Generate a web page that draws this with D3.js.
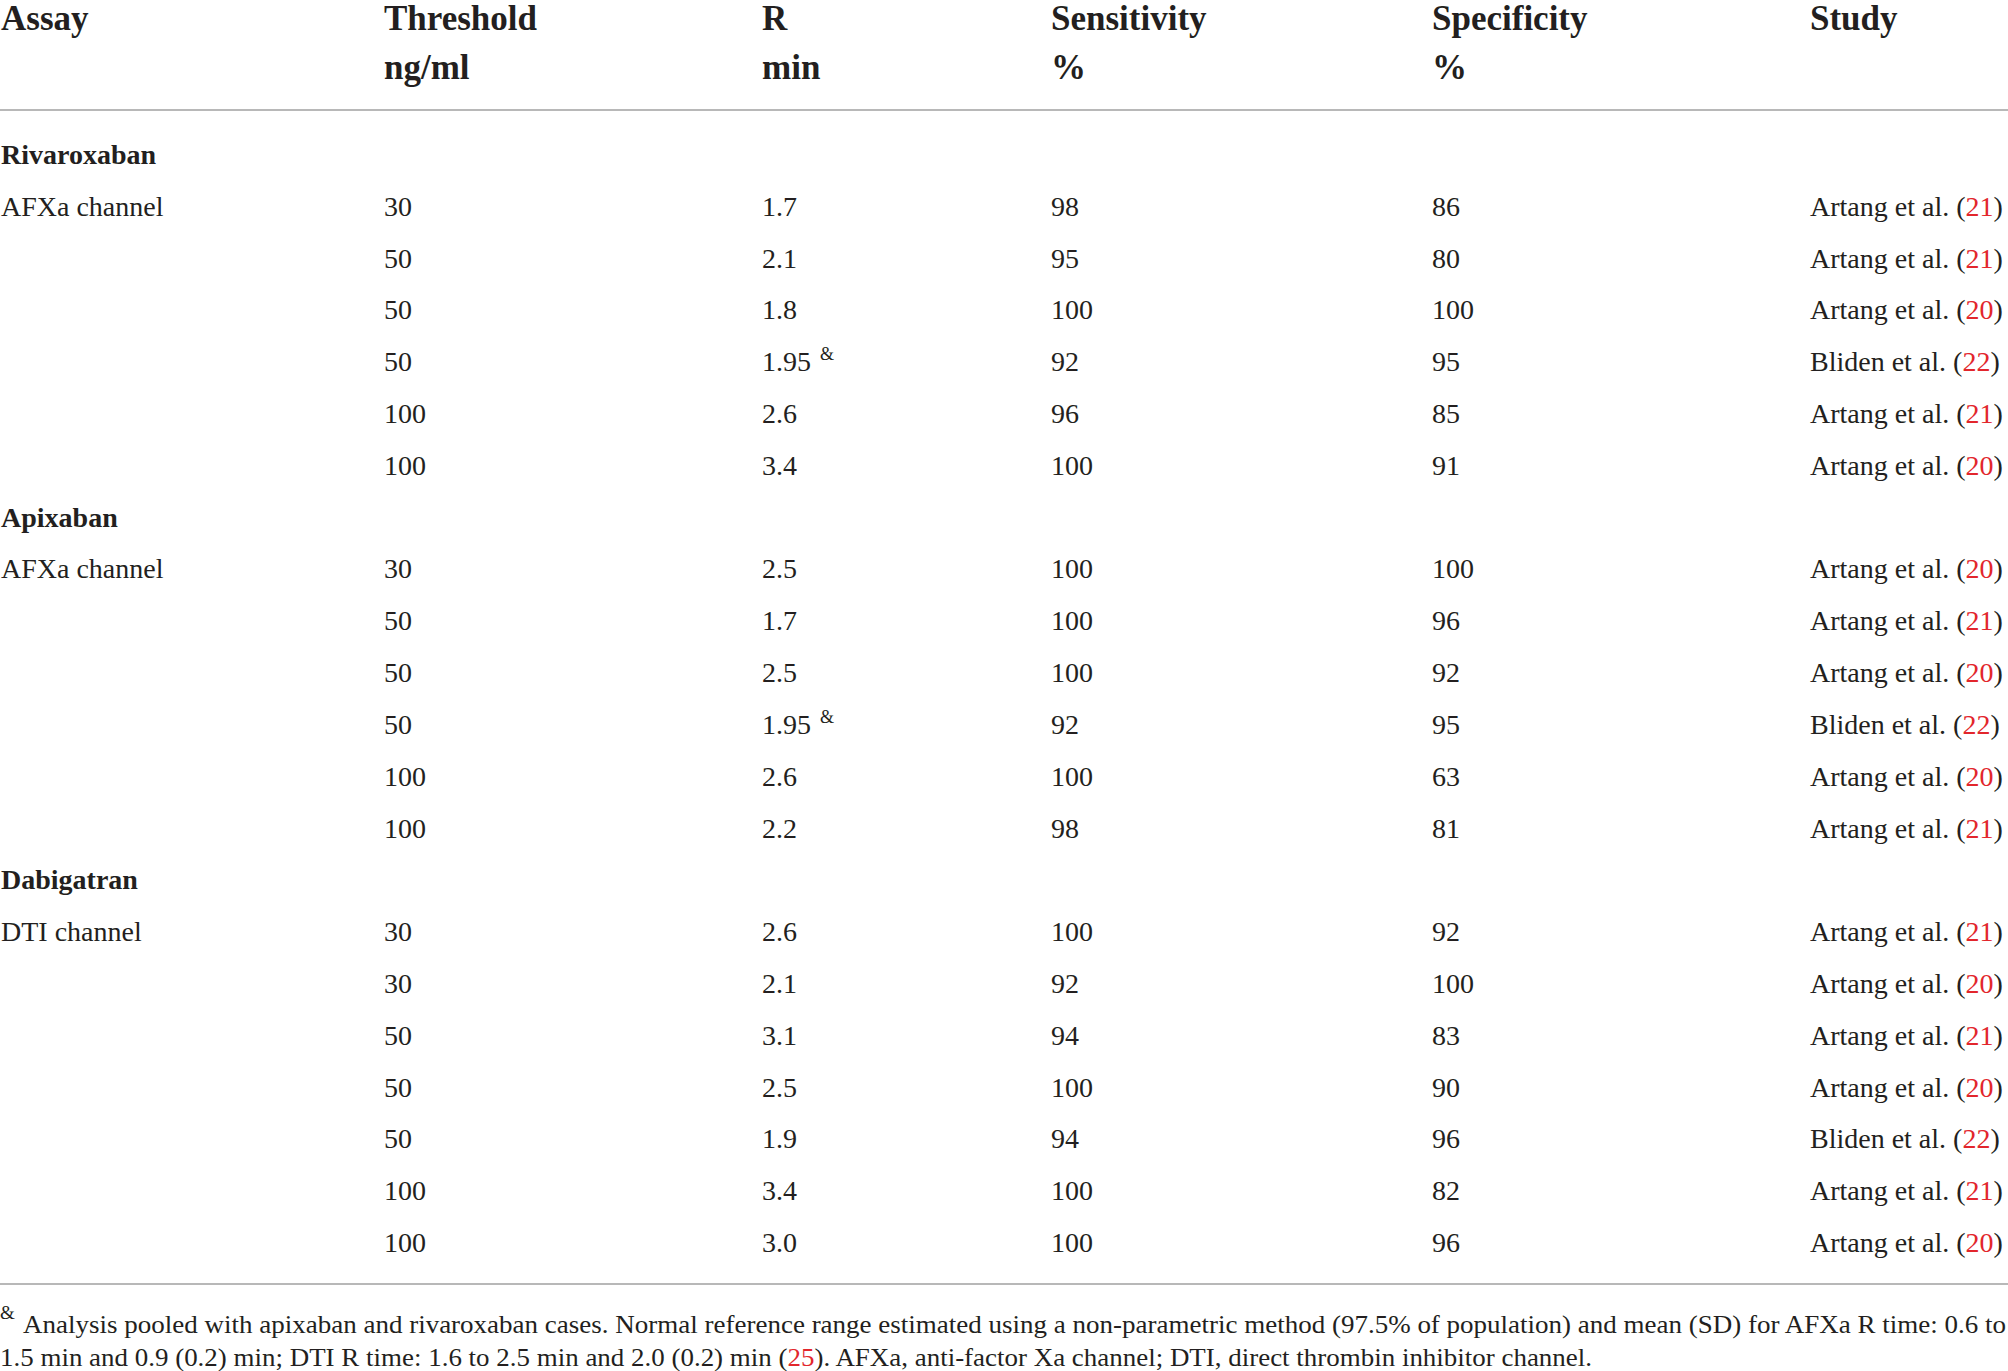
<!DOCTYPE html>
<html>
<head>
<meta charset="utf-8">
<script src="https://cdn.jsdelivr.net/npm/d3@7"></script>
<style>
  html, body { margin: 0; padding: 0; background: #fff; }
  svg { display: block; }
</style>
</head>
<body>
<div id="table"></div>
<script>
// table contents
const headers = [
  ["Assay", ""],
  ["Threshold", "ng/ml"],
  ["R", "min"],
  ["Sensitivity", "%"],
  ["Specificity", "%"],
  ["Study", ""]
];

const drugs = ["Rivaroxaban", "Apixaban", "Dabigatran"];
const channels = ["AFXa channel", "AFXa channel", "DTI channel"];

// one list per column, grouped by drug
const thresholds = [
  [30, 50, 50, 50, 100, 100],
  [30, 50, 50, 50, 100, 100],
  [30, 30, 50, 50, 50, 100, 100]
];
const rTimes = [
  ["1.7", "2.1", "1.8", "1.95", "2.6", "3.4"],
  ["2.5", "1.7", "2.5", "1.95", "2.6", "2.2"],
  ["2.6", "2.1", "3.1", "2.5", "1.9", "3.4", "3.0"]
];
const pooled = [
  [0, 0, 0, 1, 0, 0],
  [0, 0, 0, 1, 0, 0],
  [0, 0, 0, 0, 0, 0, 0]
];
const sensitivity = [
  [98, 95, 100, 92, 96, 100],
  [100, 100, 100, 92, 100, 98],
  [100, 92, 94, 100, 94, 100, 100]
];
const specificity = [
  [86, 80, 100, 95, 85, 91],
  [100, 96, 92, 95, 63, 81],
  [92, 100, 83, 90, 96, 82, 96]
];
const studies = [
  ["Artang", "Artang", "Artang", "Bliden", "Artang", "Artang"],
  ["Artang", "Artang", "Artang", "Bliden", "Artang", "Artang"],
  ["Artang", "Artang", "Artang", "Artang", "Bliden", "Artang", "Artang"]
];
const refs = [
  [21, 21, 20, 22, 21, 20],
  [20, 21, 20, 22, 20, 21],
  [21, 20, 21, 20, 22, 21, 20]
];

const footnoteLine1 = "Analysis pooled with apixaban and rivaroxaban cases. Normal reference range estimated using a non-parametric method (97.5% of population) and mean (SD) for AFXa R time: 0.6 to";
const footnoteLine2a = "1.5 min and 0.9 (0.2) min; DTI R time: 1.6 to 2.5 min and 2.0 (0.2) min (";
const footnoteRef = 25;
const footnoteLine2b = "). AFXa, anti-factor Xa channel; DTI, direct thrombin inhibitor channel.";

//
//
const width = 2008;
const height = 1371;
const ink = "#231f20";
const red = "#e2262c";
const ruleColor = "#b8b8b8";
const font = "'Liberation Serif', 'Times New Roman', serif";

// flatten into table rows: a heading row per drug followed by its data rows
const rows = [];
drugs.forEach((drug, g) => {
  rows.push({type: "group", label: drug});
  thresholds[g].forEach((t, i) => {
    rows.push({
      type: "data",
      assay: i === 0 ? channels[g] : "",
      threshold: t,
      r: rTimes[g][i],
      pooled: pooled[g][i],
      sens: sensitivity[g][i],
      spec: specificity[g][i],
      study: studies[g][i],
      ref: refs[g][i]
    });
  });
});

const colKeys = ["assay", "threshold", "r", "sens", "spec", "study"];
const x = d3.scaleOrdinal()
  .domain(colKeys)
  .range([1, 384, 762, 1051, 1432, 1810]);

const y = d3.scaleLinear()
  .domain([0, rows.length - 1])
  .range([164, 1252]);

const svg = d3.select("#table")
  .append("svg")
  .attr("width", width)
  .attr("height", height)
  .style("font-family", font)
  .style("fill", ink);

// header (two lines per column)
const head = svg.append("g")
  .attr("font-size", 35)
  .attr("font-weight", "bold");
head.selectAll("text.h1")
  .data(headers)
  .join("text")
  .attr("class", "h1")
  .attr("x", (d, i) => x(colKeys[i]))
  .attr("y", 30)
  .text(d => d[0]);
head.selectAll("text.h2")
  .data(headers.filter(d => d[1]))
  .join("text")
  .attr("class", "h2")
  .attr("x", d => x(colKeys[headers.indexOf(d)]))
  .attr("y", 79)
  .text(d => d[1]);

// rules
svg.selectAll("line.rule")
  .data([110, 1284])
  .join("line")
  .attr("class", "rule")
  .attr("x1", 0)
  .attr("x2", width)
  .attr("y1", d => d)
  .attr("y2", d => d)
  .attr("stroke", ruleColor)
  .attr("stroke-width", 2);

// body rows
const body = svg.append("g")
  .attr("font-size", 28);

const rowG = body.selectAll("g.row")
  .data(rows)
  .join("g")
  .attr("class", "row")
  .attr("transform", (d, i) => `translate(0,${y(i)})`);

rowG.filter(d => d.type === "group")
  .append("text")
  .attr("x", x("assay"))
  .attr("font-weight", "bold")
  .text(d => d.label);

const dataRows = rowG.filter(d => d.type === "data");

dataRows.append("text")
  .attr("x", x("assay"))
  .text(d => d.assay);

dataRows.append("text")
  .attr("x", x("threshold"))
  .text(d => d.threshold);

const rText = dataRows.append("text")
  .attr("x", x("r"));
rText.append("tspan").text(d => d.r);
rText.filter(d => d.pooled)
  .append("tspan")
  .attr("dx", 9)
  .attr("dy", -11)
  .attr("font-size", 18)
  .text("&");

dataRows.append("text")
  .attr("x", x("sens"))
  .text(d => d.sens);

dataRows.append("text")
  .attr("x", x("spec"))
  .text(d => d.spec);

const studyText = dataRows.append("text")
  .attr("x", x("study"));
studyText.append("tspan").text(d => d.study + " et al. (");
studyText.append("tspan").style("fill", red).text(d => d.ref);
studyText.append("tspan").text(")");

// footnote
const foot = svg.append("g")
  .attr("font-size", 26);

foot.append("text")
  .attr("x", 0)
  .attr("y", 1319)
  .attr("font-size", 19)
  .text("&");

foot.append("text")
  .attr("x", 23)
  .attr("y", 1333)
  .attr("textLength", 1983)
  .attr("lengthAdjust", "spacingAndGlyphs")
  .text(footnoteLine1);

const line2 = foot.append("text")
  .attr("x", 0)
  .attr("y", 1366)
  .attr("textLength", 1592)
  .attr("lengthAdjust", "spacingAndGlyphs");
line2.append("tspan").text(footnoteLine2a);
line2.append("tspan").style("fill", red).text(footnoteRef);
line2.append("tspan").text(footnoteLine2b);
</script>
</body>
</html>
